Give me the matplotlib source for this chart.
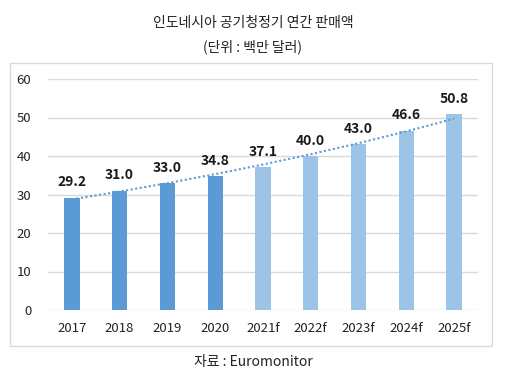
import matplotlib
matplotlib.use("Agg")
import matplotlib.pyplot as plt
import numpy as np
from matplotlib.patches import Rectangle

plt.rcParams['font.family'] = ['Noto Sans CJK KR', 'DejaVu Sans']

# 데이터
anos = ["2017", "2018", "2019", "2020", "2021f", "2022f", "2023f", "2024f", "2025f"]
vendas = [29.2, 31.0, 33.0, 34.8, 37.1, 40.0, 43.0, 46.6, 50.8]
previsao = [False, False, False, False, True, True, True, True, True]

cor_real = "#5B9BD5"
cor_prev = "#9DC3E6"

fig = plt.figure(figsize=(5.06, 3.84), dpi=100)
ax = fig.add_axes([48 / 506, 1 - 310 / 384, 430 / 506, 231 / 384])

x = np.arange(len(anos))
cores = [cor_prev if p else cor_real for p in previsao]
ax.bar(x, vendas, width=0.32, color=cores, zorder=3)

# linha de tendência exponencial (ajuste sobre os dados)
coef = np.polyfit(x, np.log(vendas), 1)
tendencia = np.exp(np.polyval(coef, x))
ax.plot(x, tendencia, linestyle=(0, (1, 1.2)), color=cor_real, linewidth=1.5, zorder=4)

for xi, v in zip(x, vendas):
    ax.annotate(f"{v:.1f}", (xi, v), xytext=(0, 6), textcoords="offset points",
                ha="center", va="bottom", fontsize=10, fontweight="bold", color="#1a1a1a")

ax.set_xlim(-0.5, len(anos) - 0.5)
ax.set_ylim(0, 60)
ax.set_yticks(range(0, 61, 10))
ax.set_xticks(x)
ax.set_xticklabels(anos)
ax.grid(axis="y", color="#d9d9d9", linewidth=1, zorder=0)
for s in ax.spines.values():
    s.set_visible(False)
ax.tick_params(length=0, labelsize=9.5, colors="#222222")
ax.tick_params(axis="x", pad=9)
ax.tick_params(axis="y", pad=12)

# moldura do gráfico
fig.patches.append(Rectangle((10 / 506, 1 - 346 / 384), 482 / 506, 283 / 384,
                             transform=fig.transFigure, fill=False,
                             edgecolor="#d9d9d9", linewidth=1))

fig.text(0.5, 1 - 23 / 384, "인도네시아 공기청정기 연간 판매액", ha="center", va="center",
         fontsize=10, color="#222222")
fig.text(0.5, 1 - 47 / 384, "(단위 : 백만 달러)", ha="center", va="center",
         fontsize=10, color="#222222")
fig.text(0.5, 1 - 362 / 384, "자료 : Euromonitor", ha="center", va="center",
         fontsize=10, color="#222222")

fig.savefig("out.png", dpi=100)
